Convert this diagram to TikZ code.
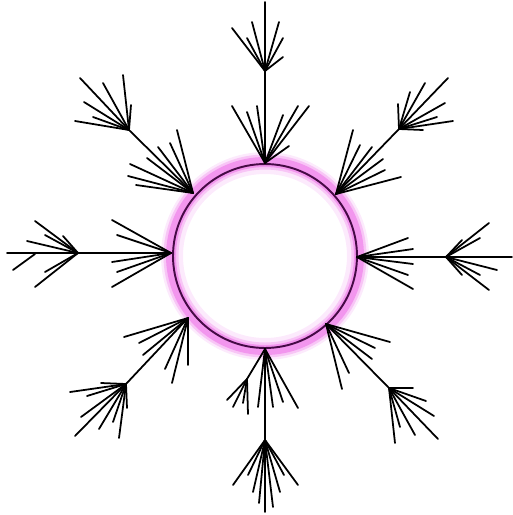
\documentclass[tikz,border=0pt]{standalone}
\usepackage{tikz}
\usetikzlibrary{positioning}

\definecolor{glowpink}{RGB}{242,150,238}
\definecolor{rimline}{RGB}{70,10,70}
\tikzset{twig/.style={line width=1pt, line cap=round}}

\begin{document}
\begin{tikzpicture}[x=0.02cm, y=-0.02cm]
    \useasboundingbox (0,0) rectangle (512,515);
    \coordinate (c) at (265,256);

    % glowing ring
    \draw[glowpink!20, line width=0.44cm] (c) circle[radius=93];
    \draw[glowpink!55, line width=0.30cm] (c) circle[radius=94];
    \draw[glowpink, line width=0.20cm] (c) circle[radius=94];
    \node[draw=rimline, circle, line width=1.1pt, minimum size=3.68cm, inner sep=0pt] (ring) at (c) {};

    % hubs
    \coordinate (tI) at (265,163);  \coordinate (tO) at (265,71);   \coordinate (tE) at (265,2);
    \coordinate (rI) at (357,257);  \coordinate (rO) at (446,257);  \coordinate (rE) at (512,257);
    \coordinate (bI) at (265,349);  \coordinate (bO) at (265,440);  \coordinate (bE) at (265,512);
    \coordinate (lI) at (171,253);  \coordinate (lO) at (78,253);   \coordinate (lE) at (7,253);
    \coordinate (ulI) at (193,193); \coordinate (ulO) at (129,130);
    \coordinate (urI) at (336,194); \coordinate (urO) at (399,129);
    \coordinate (llI) at (188,318); \coordinate (llO) at (126,384);
    \coordinate (lrI) at (326,324); \coordinate (lrO) at (389,388);
    \coordinate (bS) at (247,379);

    % stems
    \draw[twig] (tE) -- (tO) -- (tI);
    \draw[twig] (rI) -- (rO) -- (rE);
    \draw[twig] (bI) -- (bO) -- (bE);
    \draw[twig] (lE) -- (lO) -- (lI);
    \draw[twig] (ulO) -- (ulI);
    \draw[twig] (urO) -- (urI);
    \draw[twig] (llO) -- (llI);
    \draw[twig] (lrO) -- (lrI);
    \draw[twig] (bI) -- (bS);

    % fans
    \foreach \x/\y in {232/28, 252/22, 247/38, 279/22, 283/38, 283/57}
        \draw[twig] (\x,\y) -- (tO);
    \foreach \x/\y in {232/106, 247/112, 257/106, 283/115, 298/106, 309/106, 289/146}
        \draw[twig] (\x,\y) -- (tI);
    \foreach \x/\y in {408/238, 413/249, 413/264, 408/275, 413/289}
        \draw[twig] (\x,\y) -- (rI);
    \foreach \x/\y in {489/223, 480/238, 462/240, 497/270, 480/275, 489/290, 462/275}
        \draw[twig] (\x,\y) -- (rO);
    \foreach \x/\y in {35/221, 27/241, 45/235, 63/236, 45/272, 35/287}
        \draw[twig] (\x,\y) -- (lO);
    \draw[twig] (13,270) -- (35,254);
    \foreach \x/\y in {112/220, 117/235, 112/262, 117/272, 112/287}
        \draw[twig] (\x,\y) -- (lI);
    \foreach \x/\y in {80/78, 103/83, 123/75, 131/105, 84/102, 75/121, 93/117}
        \draw[twig] (\x,\y) -- (ulO);
    \foreach \x/\y in {177/130, 170/143, 158/147, 147/158, 130/164, 128/176, 136/185}
        \draw[twig] (\x,\y) -- (ulI);
    \foreach \x/\y in {410/92, 398/104, 425/83, 448/78, 445/103, 437/117, 453/121, 423/130}
        \draw[twig] (\x,\y) -- (urO);
    \foreach \x/\y in {353/130, 360/145, 372/147, 383/159, 385/170, 401/177}
        \draw[twig] (\x,\y) -- (urI);
    \foreach \x/\y in {124/337, 139/343, 143/355, 165/369, 172/383, 188/365}
        \draw[twig] (\x,\y) -- (llI);
    \foreach \x/\y in {70/392, 87/396, 101/383, 127/408, 81/417, 75/436, 99/429, 119/438, 113/422}
        \draw[twig] (\x,\y) -- (llO);
    \foreach \x/\y in {390/342, 375/348, 372/359, 349/373, 342/389}
        \draw[twig] (\x,\y) -- (lrI);
    \foreach \x/\y in {413/388, 426/401, 434/416, 438/439, 415/435, 400/427, 395/443}
        \draw[twig] (\x,\y) -- (lrO);
    \foreach \x/\y in {258/407, 273/407, 283/402, 298/408}
        \draw[twig] (\x,\y) -- (bI);
    \foreach \x/\y in {227/400, 233/407, 243/403, 248/414}
        \draw[twig] (\x,\y) -- (bS);
    \foreach \x/\y in {233/485, 248/475, 253/492, 259/503, 273/507, 280/492, 284/475, 298/485}
        \draw[twig] (\x,\y) -- (bO);
\end{tikzpicture}
\end{document}
